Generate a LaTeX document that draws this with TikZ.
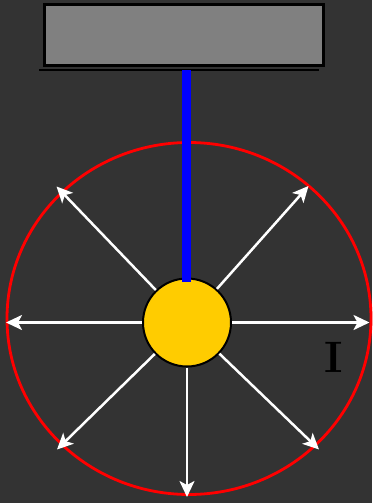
\documentclass[tikz,border=0pt]{standalone}
\usetikzlibrary{arrows.meta,calc}
\definecolor{bgdark}{HTML}{333333}
\definecolor{lampyellow}{HTML}{FFCC00}
\definecolor{plategray}{HTML}{808080}
\definecolor{rodblue}{HTML}{0000FF}
\definecolor{ringred}{HTML}{FF0000}

\begin{document}
\begin{tikzpicture}[x=1pt,y=-1pt,
  ray/.style={draw=white,line width=2.5pt,-{Stealth[length=16pt,width=15pt,inset=4pt]}},
  rod/.style={draw=rodblue,line width=9pt}]
\fill[bgdark] (0,0) rectangle (372,503);
\useasboundingbox (0,0) rectangle (372,503);
\node[draw=black,line width=3pt,fill=plategray,minimum width=279pt,minimum height=61pt,inner sep=0pt] (plate) at (184,35) {};
\draw[black,line width=2.5pt] (39,70) -- (319,70);
\draw[ringred,line width=2.8pt] (189,318.5) ellipse [x radius=182, y radius=176];
\node[circle,draw=black,line width=2pt,fill=lampyellow,minimum size=88pt,inner sep=0pt] (lamp) at (187,322.5) {};
\foreach \n/\x/\y in {r/369.5/322.5,ur/308.5/186,ul/56.5/186.5,l/6/322.5,ll/57/449.5,d/187/497,lr/319/449.5} {
  \coordinate (tip\n) at (\x,\y);
  \draw[ray] (lamp) -- (tip\n);
}
\coordinate (rodtop) at (186,70);
\coordinate (rodend) at (186,282);
\draw[rod] (rodtop) -- (rodend);
\node[text=black,font=\fontsize{44}{44}\selectfont\bfseries,inner sep=0pt] (curlabel) at (334,357) {I};
\end{tikzpicture}
\end{document}
